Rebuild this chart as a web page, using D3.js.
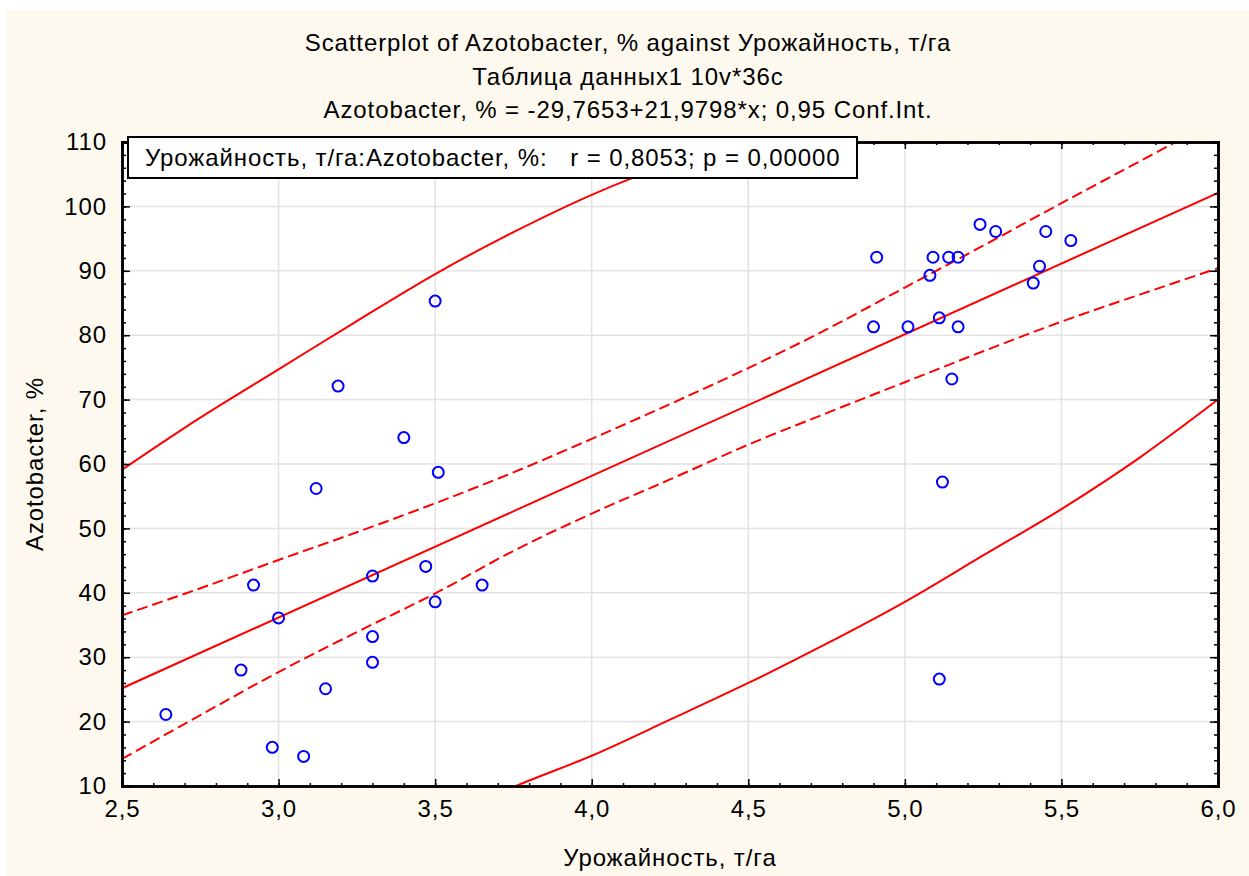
<!DOCTYPE html>
<html>
<head>
<meta charset='utf-8' />
<title>Scatterplot of Azotobacter</title>
<script src="https://d3js.org/d3.v7.min.js"></script>
<style>
body { margin: 0; padding: 0; background: #ffffff; }
svg { display: block; font-family: Arial, "Liberation Sans", sans-serif; }
svg text { letter-spacing: 0.9px; }
</style>
</head>
<body>
<div id='chart'></div>

<script>

// yield (t/ha) and Azotobacter (%) for the 36 cases
var yieldVals = [2.64, 2.88, 2.92, 2.98, 3.00, 3.08, 3.12, 3.15, 3.19, 3.30, 3.30, 3.30,
  3.40, 3.47, 3.50, 3.50, 3.51, 3.65, 4.90, 4.91, 5.01, 5.08, 5.09, 5.11,
  5.11, 5.12, 5.14, 5.15, 5.17, 5.17, 5.24, 5.29, 5.41, 5.43, 5.45, 5.53];
var azotoVals = [21.1, 28.0, 41.2, 16.0, 36.1, 14.6, 56.2, 25.1, 72.1, 42.6, 33.2, 29.2,
  64.1, 44.1, 85.3, 38.6, 58.7, 41.2, 81.3, 92.1, 81.3, 89.3, 92.1, 82.7,
  26.6, 57.2, 92.1, 73.2, 81.3, 92.1, 97.2, 96.1, 88.1, 90.7, 96.1, 94.7];

// regression line, from the title
var intercept = -29.7653;
var slope = 21.9798;

// confidence bands
var bandX = [2.5, 2.75, 3.0, 3.25, 3.5, 3.75, 4.0, 4.25, 4.5, 4.75, 5.0, 5.25, 5.5, 5.75, 6.0];
var ciUpper = [36.5, 40.7, 45.1, 49.4, 53.9, 58.7, 63.9, 69.3, 74.9, 80.9, 87.4, 93.9, 100.5, 107.0, 113.5];
var ciLower = [14.2, 21.0, 27.7, 33.9, 39.9, 46.5, 52.3, 57.6, 63.0, 67.9, 72.7, 77.5, 82.1, 86.3, 90.4];

var outerUpX = [2.5, 2.75, 3.0, 3.25, 3.5, 3.75, 4.0, 4.25, 4.5];
var outerUpY = [59.1, 67.2, 74.7, 82.2, 89.5, 96.0, 101.8, 106.6, 110.6];
var outerLoX = [3.6, 3.758, 4.0, 4.25, 4.5, 4.75, 5.0, 5.25, 5.5, 5.75, 6.0];
var outerLoY = [6.6, 10.0, 14.7, 20.3, 26.0, 32.1, 38.6, 45.8, 53.0, 61.0, 70.0];

var xTicks = [2.5, 3.0, 3.5, 4.0, 4.5, 5.0, 5.5, 6.0];
var yTicks = [10, 20, 30, 40, 50, 60, 70, 80, 90, 100, 110];

var titleLines = [
  "Scatterplot of Azotobacter, % against Урожайность, т/га",
  "Таблица данных1 10v*36c",
  "Azotobacter, % = -29,7653+21,9798*x; 0,95 Conf.Int."
];
var legendText = "Урожайность, т/га:Azotobacter, %:   r = 0,8053; p = 0,00000";
var xTitle = "Урожайность, т/га";
var yTitle = "Azotobacter, %";

var W = 1249, H = 876;
var margin = {top: 142, right: 31, bottom: 90, left: 122};
var width = W - margin.left - margin.right,
    height = H - margin.top - margin.bottom;
var fontSize = 24;

var svg = d3.select("#chart")
  .append("svg")
    .attr("width", W)
    .attr("height", H);

// cream page
svg.append("rect")
  .attr("x", 6).attr("y", 10)
  .attr("width", W - 6).attr("height", H - 10)
  .attr("fill", "#fdf9ee");

var fmt = function(d) { return d3.format(".1f")(d).replace(".", ","); };

var x = d3.scaleLinear().domain([2.5, 6.0]).range([0, width]);
var y = d3.scaleLinear().domain([10, 110]).range([height, 0]);

var g = svg.append("g")
  .attr("transform", "translate(" + margin.left + "," + margin.top + ")");

g.append("rect")
  .attr("width", width).attr("height", height)
  .attr("fill", "#ffffff");

//////////
// GRID //
//////////

g.append("g")
  .selectAll("line")
  .data(xTicks)
  .enter().append("line")
    .attr("x1", function(d) { return x(d); })
    .attr("x2", function(d) { return x(d); })
    .attr("y1", 0).attr("y2", height)
    .attr("stroke", "#e3e3e3").attr("stroke-width", 1.5);

g.append("g")
  .selectAll("line")
  .data(yTicks)
  .enter().append("line")
    .attr("y1", function(d) { return y(d); })
    .attr("y2", function(d) { return y(d); })
    .attr("x1", 0).attr("x2", width)
    .attr("stroke", "#e3e3e3").attr("stroke-width", 1.5);

//////////
// LINES //
//////////

g.append("defs").append("clipPath")
    .attr("id", "clip")
  .append("rect")
    .attr("width", width).attr("height", height);

var plot = g.append("g").attr("clip-path", "url(#clip)");

var line = d3.line()
  .x(function(d) { return x(d[0]); })
  .y(function(d) { return y(d[1]); })
  .curve(d3.curveMonotoneX);

plot.append("path")
  .attr("d", line(x.domain().map(function(v) { return [v, intercept + slope * v]; })))
  .attr("fill", "none").attr("stroke", "#ff0000").attr("stroke-width", 2);

plot.append("path")
  .attr("d", line(d3.zip(bandX, ciUpper)))
  .attr("fill", "none").attr("stroke", "#ff0000").attr("stroke-width", 2)
  .attr("stroke-dasharray", "11,5");

plot.append("path")
  .attr("d", line(d3.zip(bandX, ciLower)))
  .attr("fill", "none").attr("stroke", "#ff0000").attr("stroke-width", 2)
  .attr("stroke-dasharray", "11,5");

plot.append("path")
  .attr("d", line(d3.zip(outerUpX, outerUpY)))
  .attr("fill", "none").attr("stroke", "#ff0000").attr("stroke-width", 2);

plot.append("path")
  .attr("d", line(d3.zip(outerLoX, outerLoY)))
  .attr("fill", "none").attr("stroke", "#ff0000").attr("stroke-width", 2);

// points
plot.selectAll("circle")
  .data(d3.zip(yieldVals, azotoVals))
  .enter().append("circle")
    .attr("cx", function(d) { return x(d[0]); })
    .attr("cy", function(d) { return y(d[1]); })
    .attr("r", 5.5)
    .attr("fill", "none")
    .attr("stroke", "#0000ff")
    .attr("stroke-width", 2);

//////////
// AXIS //
//////////

var xMinor = d3.range(25, 61).map(function(d) { return d / 10; });
var yMinor = d3.range(10, 111, 2);

// bottom / top
g.append("g")
  .attr("transform", "translate(0," + height + ")")
  .call(d3.axisBottom(x).tickValues(xMinor).tickSize(-3).tickFormat(""));
g.append("g")
  .attr("transform", "translate(0," + height + ")")
  .call(d3.axisBottom(x).tickValues(xTicks).tickSize(-7).tickPadding(14).tickFormat(fmt));
g.append("g")
  .call(d3.axisTop(x).tickValues(xMinor).tickSize(-3).tickFormat(""));
g.append("g")
  .call(d3.axisTop(x).tickValues(xTicks).tickSize(-7).tickFormat(""));

// left / right
g.append("g")
  .call(d3.axisLeft(y).tickValues(yMinor).tickSize(-4).tickFormat(""));
g.append("g")
  .call(d3.axisLeft(y).tickValues(yTicks).tickSize(-8).tickPadding(15).tickFormat(d3.format("d")));
g.append("g")
  .attr("transform", "translate(" + width + ",0)")
  .call(d3.axisRight(y).tickValues(yMinor).tickSize(-4).tickFormat(""));
g.append("g")
  .attr("transform", "translate(" + width + ",0)")
  .call(d3.axisRight(y).tickValues(yTicks).tickSize(-8).tickFormat(""));

g.selectAll(".domain").attr("stroke", "#000").attr("stroke-width", 2.5);
g.selectAll(".tick line").attr("stroke", "#000").attr("stroke-width", 1.5);
g.selectAll(".tick text")
  .attr("font-size", fontSize)
  .attr("font-family", "Arial, 'Liberation Sans', sans-serif")
  .attr("fill", "#000");

// axis titles
svg.append("text")
  .attr("x", margin.left + width / 2)
  .attr("y", 866)
  .attr("text-anchor", "middle")
  .attr("font-size", fontSize)
  .text(xTitle);

svg.append("text")
  .attr("transform", "translate(43," + (margin.top + height / 2) + ") rotate(-90)")
  .attr("text-anchor", "middle")
  .attr("font-size", fontSize)
  .text(yTitle);

//////////
// TITLE //
//////////

svg.selectAll(".title")
  .data(titleLines)
  .enter().append("text")
    .attr("class", "title")
    .attr("x", 628)
    .attr("y", function(d, i) { return 51 + i * 33.5; })
    .attr("text-anchor", "middle")
    .attr("font-size", fontSize)
    .text(function(d) { return d; });

//////////
// LEGEND //
//////////

svg.append("rect")
  .attr("x", 128).attr("y", 137)
  .attr("width", 729).attr("height", 41)
  .attr("fill", "#ffffff")
  .attr("stroke", "#000")
  .attr("stroke-width", 2);

svg.append("text")
  .attr("x", 145).attr("y", 166)
  .attr("font-size", fontSize)
  .style("white-space", "pre")
  .text(legendText);

</script>
</body>
</html>
